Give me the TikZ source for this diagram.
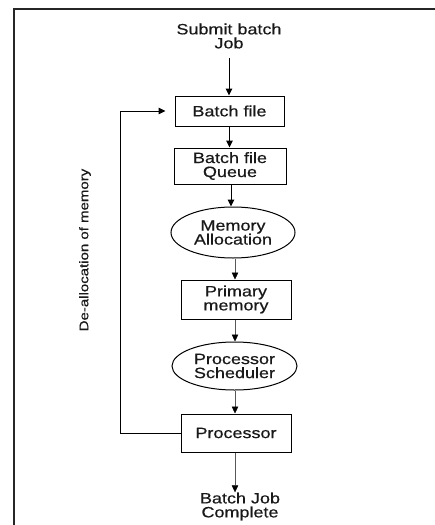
\documentclass[tikz,border=0pt]{standalone}
\usepackage{fontspec}
\setmainfont{Liberation Sans}[FakeStretch=1.2,FakeBold=0.5]
\usetikzlibrary{arrows.meta,shapes.geometric}
\begin{document}
\begin{tikzpicture}[x=1pt,y=-1pt,
  txt/.style={font=\fontsize{15}{14}\selectfont, align=center, inner sep=0pt, text=black!90},
  boxnode/.style={txt, draw, line width=1pt, rectangle},
  ellnode/.style={txt, draw, line width=1pt, ellipse, inner sep=0pt},
  arr/.style={line width=1pt, -{Triangle[width=6.5pt,length=7pt]}},
  thinarr/.style={line width=0.5pt, draw=black!65, -{Triangle[width=6.5pt,length=7pt,color=black]}},
  frame/.style={line width=2pt, draw=black!85}
]
\useasboundingbox (0,0) rectangle (435,525);
\draw[frame] (14,525) -- (14,9) -- (436,9);

\node[txt] (sub) at (229,36) {Submit batch\\Job};
\node[boxnode, minimum width=109pt, minimum height=30pt] (bf) at (229.5,111) {Batch file};
\node[boxnode, minimum width=112pt, minimum height=36pt] (q) at (230,166) {Batch file\\Queue};
\node[ellnode, minimum width=124pt, minimum height=51pt] (ma) at (233,232.5) {Memory\\Allocation};
\node[boxnode, minimum width=110pt, minimum height=39pt] (pm) at (236,299.5) {Primary\\memory};
\node[ellnode, minimum width=125pt, minimum height=48pt] (ps) at (234.5,366) {Processor\\Scheduler};
\node[boxnode, minimum width=110pt, minimum height=38pt] (pr) at (236,433) {Processor};
\node[txt] (done) at (240,506.5) {Batch Job\\Complete};
\node[txt, font=\fontsize{12.5}{14}\selectfont, rotate=90] (dl) at (85,250) {De-allocation of memory};

\draw[arr] (sub.south |- 0,58) -- (bf.north -| sub.south);
\draw[arr] (bf.south) -- (bf.south |- q.north);
\draw[arr] (q.south -| 231,0) -- (ma.north -| 231,0);
\draw[thinarr] (ma.south -| 235,0) -- (pm.north -| 235,0);
\draw[thinarr] (pm.south -| 235,0) -- (ps.north -| 235,0);
\draw[thinarr] (ps.south -| 235,0) -- (pr.north -| 235,0);
\draw[thinarr] (pr.south -| 235,0) -- (done.north -| 235,0);
\draw[line width=1pt, -{Triangle[width=6.5pt,length=7pt]}, shorten >=9pt]
  (pr.west) -- (120,433) |- (bf.west);
\end{tikzpicture}
\end{document}
